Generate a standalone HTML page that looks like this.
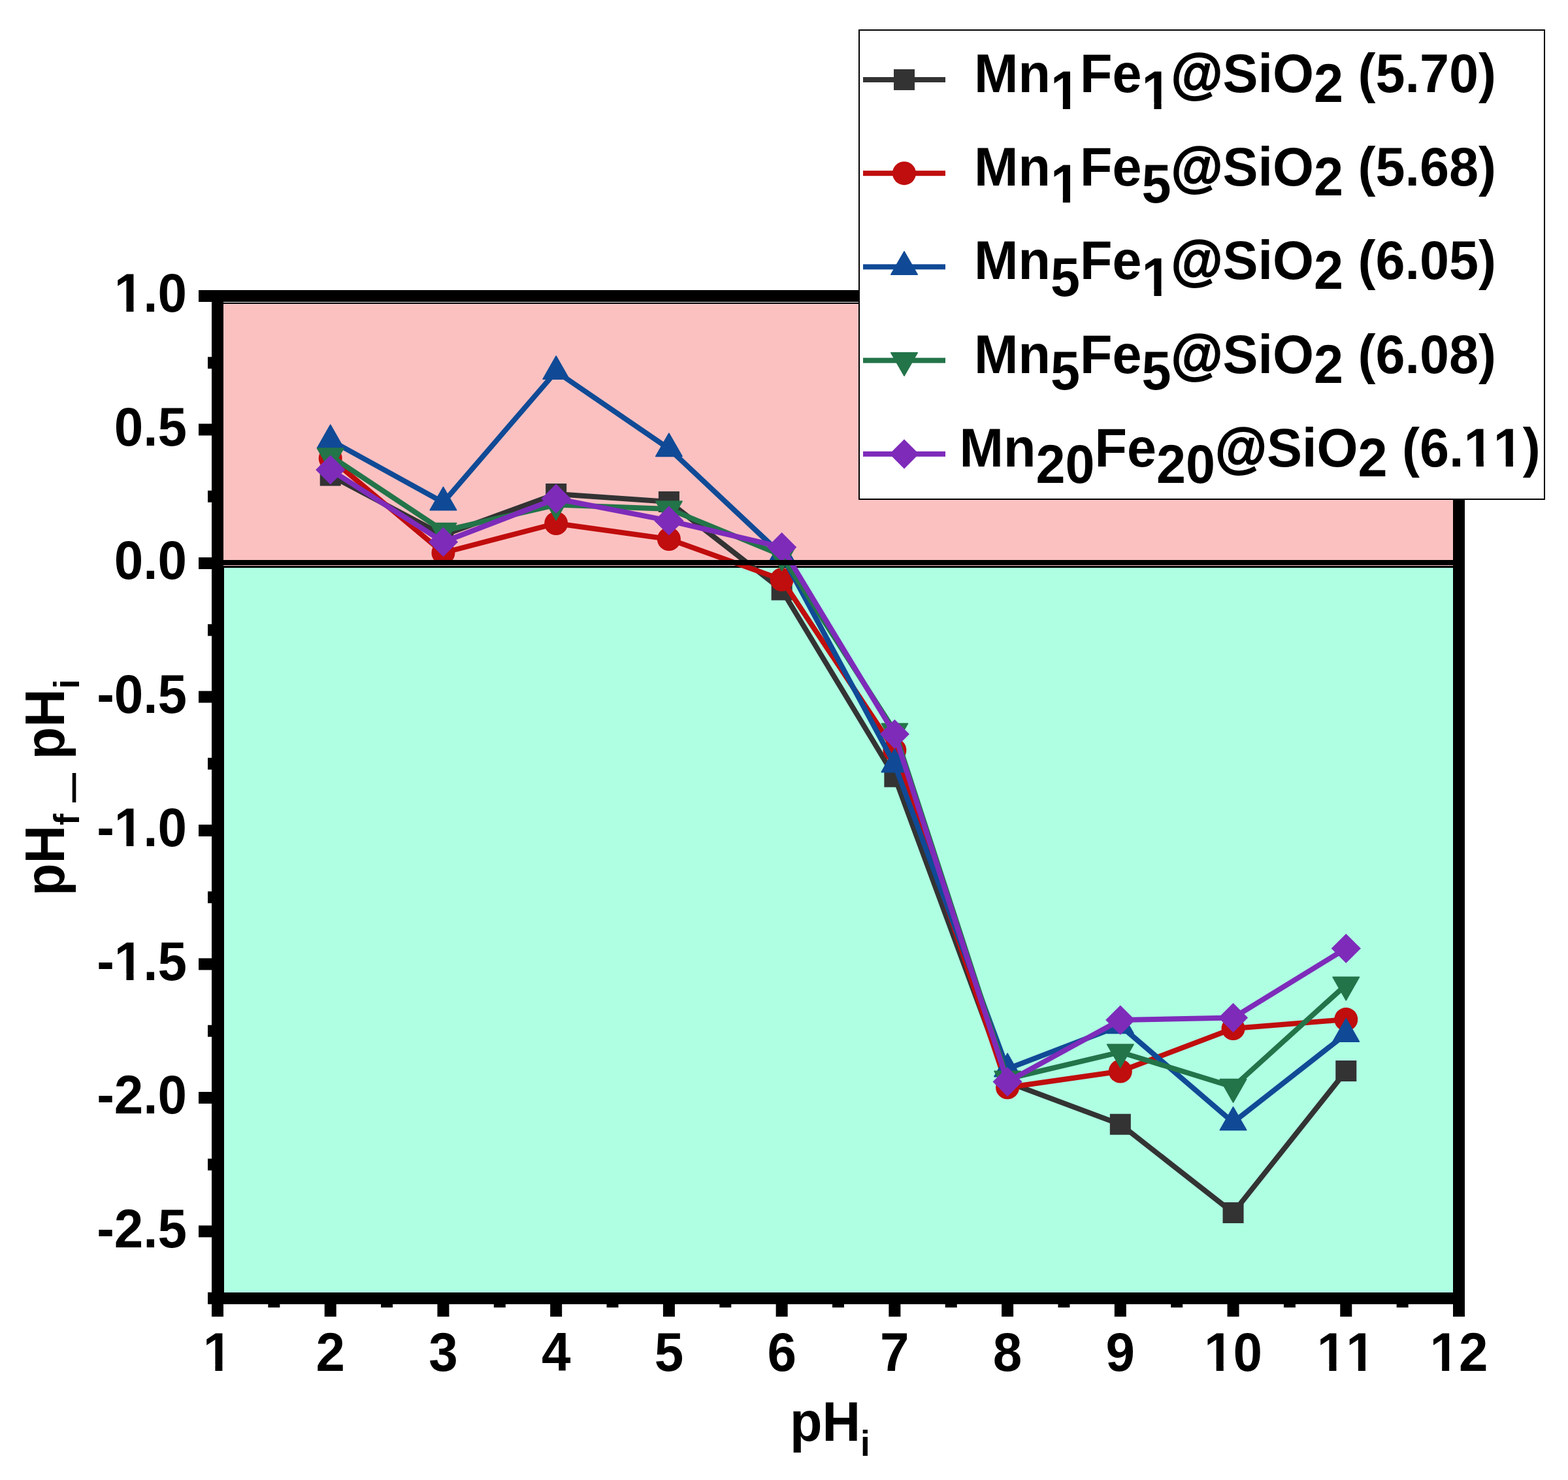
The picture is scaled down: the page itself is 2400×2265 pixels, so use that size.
<!DOCTYPE html>
<html><head><meta charset="utf-8"><title>pH drift plot</title>
<style>html,body{margin:0;padding:0;background:#fff;}body{width:2400px;height:2265px;overflow:hidden;}svg{display:block;}text{font-family:"Liberation Sans",Arial,sans-serif;font-weight:bold;fill:#000;font-kerning:none;}</style>
</head><body>
<svg width="2400" height="2265" viewBox="0 0 2400 2265">
<rect width="2400" height="2265" fill="#fff"/>
<rect x="342" y="463" width="1882" height="403" fill="#FBC1C1"/>
<rect x="342" y="463" width="1882" height="2" fill="#000"/>
<rect x="342" y="866" width="1882" height="1112" fill="#AFFFE3"/>
<rect x="342" y="866" width="1882" height="3" fill="#000"/>
<rect x="342" y="866" width="1" height="1112" fill="#000"/>
<polyline points="505.73,727.6 678.45,819 851.18,756 1023.91,768 1196.63,902.7 1369.36,1188.7 1542.09,1656.3 1714.82,1720.7 1887.54,1856 2060.27,1639" fill="none" stroke="#333333" stroke-width="8" stroke-linejoin="round"/>
<rect x="489.73" y="711.6" width="32" height="32" fill="#333333"/>
<rect x="662.45" y="803" width="32" height="32" fill="#333333"/>
<rect x="835.18" y="740" width="32" height="32" fill="#333333"/>
<rect x="1007.91" y="752" width="32" height="32" fill="#333333"/>
<rect x="1180.63" y="886.7" width="32" height="32" fill="#333333"/>
<rect x="1353.36" y="1172.7" width="32" height="32" fill="#333333"/>
<rect x="1526.09" y="1640.3" width="32" height="32" fill="#333333"/>
<rect x="1698.82" y="1704.7" width="32" height="32" fill="#333333"/>
<rect x="1871.54" y="1840" width="32" height="32" fill="#333333"/>
<rect x="2044.27" y="1623" width="32" height="32" fill="#333333"/>
<polyline points="505.73,701.5 678.45,846 851.18,801 1023.91,825 1196.63,887 1369.36,1148 1542.09,1664.3 1714.82,1639.5 1887.54,1574.1 2060.27,1560.1" fill="none" stroke="#C00D0D" stroke-width="8" stroke-linejoin="round"/>
<circle cx="505.73" cy="701.5" r="18" fill="#C00D0D"/>
<circle cx="678.45" cy="846" r="18" fill="#C00D0D"/>
<circle cx="851.18" cy="801" r="18" fill="#C00D0D"/>
<circle cx="1023.91" cy="825" r="18" fill="#C00D0D"/>
<circle cx="1196.63" cy="887" r="18" fill="#C00D0D"/>
<circle cx="1369.36" cy="1148" r="18" fill="#C00D0D"/>
<circle cx="1542.09" cy="1664.3" r="18" fill="#C00D0D"/>
<circle cx="1714.82" cy="1639.5" r="18" fill="#C00D0D"/>
<circle cx="1887.54" cy="1574.1" r="18" fill="#C00D0D"/>
<circle cx="2060.27" cy="1560.1" r="18" fill="#C00D0D"/>
<polyline points="505.73,673.8 678.45,768.9 851.18,568.5 1023.91,686.7 1196.63,849 1369.36,1169.8 1542.09,1635.8 1714.82,1569.6 1887.54,1717.7 2060.27,1582.3" fill="none" stroke="#104A96" stroke-width="8" stroke-linejoin="round"/>
<polygon points="505.73,650.2 525.93,685.6 485.53,685.6" fill="#104A96" stroke="#104A96" stroke-width="1.6" stroke-linejoin="round"/>
<polygon points="678.45,745.3 698.65,780.7 658.25,780.7" fill="#104A96" stroke="#104A96" stroke-width="1.6" stroke-linejoin="round"/>
<polygon points="851.18,544.9 871.38,580.3 830.98,580.3" fill="#104A96" stroke="#104A96" stroke-width="1.6" stroke-linejoin="round"/>
<polygon points="1023.91,663.1 1044.11,698.5 1003.71,698.5" fill="#104A96" stroke="#104A96" stroke-width="1.6" stroke-linejoin="round"/>
<polygon points="1196.63,825.4 1216.84,860.8 1176.43,860.8" fill="#104A96" stroke="#104A96" stroke-width="1.6" stroke-linejoin="round"/>
<polygon points="1369.36,1146.2 1389.56,1181.6 1349.16,1181.6" fill="#104A96" stroke="#104A96" stroke-width="1.6" stroke-linejoin="round"/>
<polygon points="1542.09,1612.2 1562.29,1647.6 1521.89,1647.6" fill="#104A96" stroke="#104A96" stroke-width="1.6" stroke-linejoin="round"/>
<polygon points="1714.82,1546 1735.02,1581.4 1694.62,1581.4" fill="#104A96" stroke="#104A96" stroke-width="1.6" stroke-linejoin="round"/>
<polygon points="1887.54,1694.1 1907.74,1729.5 1867.34,1729.5" fill="#104A96" stroke="#104A96" stroke-width="1.6" stroke-linejoin="round"/>
<polygon points="2060.27,1558.7 2080.47,1594.1 2040.07,1594.1" fill="#104A96" stroke="#104A96" stroke-width="1.6" stroke-linejoin="round"/>
<polyline points="505.73,697.8 678.45,812.3 851.18,772.5 1023.91,778.9 1196.63,849.9 1369.36,1119 1542.09,1651 1714.82,1610.2 1887.54,1663.4 2060.27,1507.2" fill="none" stroke="#237449" stroke-width="8" stroke-linejoin="round"/>
<polygon points="505.73,721.4 525.93,686 485.53,686" fill="#237449" stroke="#237449" stroke-width="1.6" stroke-linejoin="round"/>
<polygon points="678.45,835.9 698.65,800.5 658.25,800.5" fill="#237449" stroke="#237449" stroke-width="1.6" stroke-linejoin="round"/>
<polygon points="851.18,796.1 871.38,760.7 830.98,760.7" fill="#237449" stroke="#237449" stroke-width="1.6" stroke-linejoin="round"/>
<polygon points="1023.91,802.5 1044.11,767.1 1003.71,767.1" fill="#237449" stroke="#237449" stroke-width="1.6" stroke-linejoin="round"/>
<polygon points="1196.63,873.5 1216.84,838.1 1176.43,838.1" fill="#237449" stroke="#237449" stroke-width="1.6" stroke-linejoin="round"/>
<polygon points="1369.36,1142.6 1389.56,1107.2 1349.16,1107.2" fill="#237449" stroke="#237449" stroke-width="1.6" stroke-linejoin="round"/>
<polygon points="1542.09,1674.6 1562.29,1639.2 1521.89,1639.2" fill="#237449" stroke="#237449" stroke-width="1.6" stroke-linejoin="round"/>
<polygon points="1714.82,1633.8 1735.02,1598.4 1694.62,1598.4" fill="#237449" stroke="#237449" stroke-width="1.6" stroke-linejoin="round"/>
<polygon points="1887.54,1687 1907.74,1651.6 1867.34,1651.6" fill="#237449" stroke="#237449" stroke-width="1.6" stroke-linejoin="round"/>
<polygon points="2060.27,1530.8 2080.47,1495.4 2040.07,1495.4" fill="#237449" stroke="#237449" stroke-width="1.6" stroke-linejoin="round"/>
<polyline points="505.73,719 678.45,829.4 851.18,763.2 1023.91,796.9 1196.63,837.4 1369.36,1123.5 1542.09,1655.6 1714.82,1561.1 1887.54,1557.6 2060.27,1451.5" fill="none" stroke="#7E2BBA" stroke-width="8" stroke-linejoin="round"/>
<polygon points="505.73,696.4 528.33,719 505.73,741.6 483.13,719" fill="#7E2BBA"/>
<polygon points="678.45,806.8 701.05,829.4 678.45,852 655.85,829.4" fill="#7E2BBA"/>
<polygon points="851.18,740.6 873.78,763.2 851.18,785.8 828.58,763.2" fill="#7E2BBA"/>
<polygon points="1023.91,774.3 1046.51,796.9 1023.91,819.5 1001.31,796.9" fill="#7E2BBA"/>
<polygon points="1196.63,814.8 1219.23,837.4 1196.63,860 1174.04,837.4" fill="#7E2BBA"/>
<polygon points="1369.36,1100.9 1391.96,1123.5 1369.36,1146.1 1346.76,1123.5" fill="#7E2BBA"/>
<polygon points="1542.09,1633 1564.69,1655.6 1542.09,1678.2 1519.49,1655.6" fill="#7E2BBA"/>
<polygon points="1714.82,1538.5 1737.42,1561.1 1714.82,1583.7 1692.22,1561.1" fill="#7E2BBA"/>
<polygon points="1887.54,1535 1910.14,1557.6 1887.54,1580.2 1864.94,1557.6" fill="#7E2BBA"/>
<polygon points="2060.27,1428.9 2082.87,1451.5 2060.27,1474.1 2037.67,1451.5" fill="#7E2BBA"/>
<rect x="342" y="857" width="1882" height="8" fill="#000"/>
<rect x="324" y="444" width="18" height="1552" fill="#000"/>
<rect x="324" y="444" width="1918" height="18" fill="#000"/>
<rect x="2224" y="444" width="18" height="1552" fill="#000"/>
<rect x="318" y="1978" width="1924" height="18" fill="#000"/>
<rect x="304" y="444" width="20" height="18" fill="#000"/>
<rect x="318" y="546.25" width="6" height="18" fill="#000"/>
<rect x="304" y="648.5" width="20" height="18" fill="#000"/>
<rect x="318" y="750.75" width="6" height="18" fill="#000"/>
<rect x="304" y="853" width="20" height="18" fill="#000"/>
<rect x="318" y="955.25" width="6" height="18" fill="#000"/>
<rect x="304" y="1057.5" width="20" height="18" fill="#000"/>
<rect x="318" y="1159.75" width="6" height="18" fill="#000"/>
<rect x="304" y="1262" width="20" height="18" fill="#000"/>
<rect x="318" y="1364.25" width="6" height="18" fill="#000"/>
<rect x="304" y="1466.5" width="20" height="18" fill="#000"/>
<rect x="318" y="1568.75" width="6" height="18" fill="#000"/>
<rect x="304" y="1671" width="20" height="18" fill="#000"/>
<rect x="318" y="1773.25" width="6" height="18" fill="#000"/>
<rect x="304" y="1875.5" width="20" height="18" fill="#000"/>
<rect x="318" y="1977.75" width="6" height="18" fill="#000"/>
<rect x="324" y="1996" width="18" height="19" fill="#000"/>
<rect x="410.36" y="1996" width="18" height="5" fill="#000"/>
<rect x="496.73" y="1996" width="18" height="19" fill="#000"/>
<rect x="583.09" y="1996" width="18" height="5" fill="#000"/>
<rect x="669.45" y="1996" width="18" height="19" fill="#000"/>
<rect x="755.82" y="1996" width="18" height="5" fill="#000"/>
<rect x="842.18" y="1996" width="18" height="19" fill="#000"/>
<rect x="928.54" y="1996" width="18" height="5" fill="#000"/>
<rect x="1014.91" y="1996" width="18" height="19" fill="#000"/>
<rect x="1101.27" y="1996" width="18" height="5" fill="#000"/>
<rect x="1187.63" y="1996" width="18" height="19" fill="#000"/>
<rect x="1274" y="1996" width="18" height="5" fill="#000"/>
<rect x="1360.36" y="1996" width="18" height="19" fill="#000"/>
<rect x="1446.73" y="1996" width="18" height="5" fill="#000"/>
<rect x="1533.09" y="1996" width="18" height="19" fill="#000"/>
<rect x="1619.45" y="1996" width="18" height="5" fill="#000"/>
<rect x="1705.82" y="1996" width="18" height="19" fill="#000"/>
<rect x="1792.18" y="1996" width="18" height="5" fill="#000"/>
<rect x="1878.54" y="1996" width="18" height="19" fill="#000"/>
<rect x="1964.91" y="1996" width="18" height="5" fill="#000"/>
<rect x="2051.27" y="1996" width="18" height="19" fill="#000"/>
<rect x="2137.63" y="1996" width="18" height="5" fill="#000"/>
<rect x="2224" y="1996" width="18" height="19" fill="#000"/>
<g transform="translate(286,477.4) scale(1,1.05)"><text x="-111.21" y="0" font-size="80">1.0</text><rect x="-107.67" y="-9.36" width="15.13" height="10.76" fill="#fff"/><rect x="-81.56" y="-9.36" width="14.12" height="10.76" fill="#fff"/></g>
<g transform="translate(286,681.9) scale(1,1.05)"><text x="-111.21" y="0" font-size="80">0.5</text></g>
<g transform="translate(286,886.4) scale(1,1.05)"><text x="-111.21" y="0" font-size="80">0.0</text></g>
<g transform="translate(286,1090.9) scale(1,1.05)"><text x="-137.85" y="0" font-size="80">-0.5</text></g>
<g transform="translate(286,1295.4) scale(1,1.05)"><text x="-137.85" y="0" font-size="80">-1.0</text><rect x="-107.67" y="-9.36" width="15.13" height="10.76" fill="#fff"/><rect x="-81.56" y="-9.36" width="14.12" height="10.76" fill="#fff"/></g>
<g transform="translate(286,1499.9) scale(1,1.05)"><text x="-137.85" y="0" font-size="80">-1.5</text><rect x="-107.67" y="-9.36" width="15.13" height="10.76" fill="#fff"/><rect x="-81.56" y="-9.36" width="14.12" height="10.76" fill="#fff"/></g>
<g transform="translate(286,1704.4) scale(1,1.05)"><text x="-137.85" y="0" font-size="80">-2.0</text></g>
<g transform="translate(286,1908.9) scale(1,1.05)"><text x="-137.85" y="0" font-size="80">-2.5</text></g>
<g transform="translate(333,2098.3) scale(1,1.05)"><text x="-22.25" y="0" font-size="80">1</text><rect x="-18.71" y="-9.36" width="15.13" height="10.76" fill="#fff"/><rect x="7.4" y="-9.36" width="14.12" height="10.76" fill="#fff"/></g>
<g transform="translate(505.73,2098.3) scale(1,1.05)"><text x="-22.25" y="0" font-size="80">2</text></g>
<g transform="translate(678.45,2098.3) scale(1,1.05)"><text x="-22.25" y="0" font-size="80">3</text></g>
<g transform="translate(851.18,2098.3) scale(1,1.05)"><text x="-22.25" y="0" font-size="80">4</text></g>
<g transform="translate(1023.91,2098.3) scale(1,1.05)"><text x="-22.25" y="0" font-size="80">5</text></g>
<g transform="translate(1196.63,2098.3) scale(1,1.05)"><text x="-22.25" y="0" font-size="80">6</text></g>
<g transform="translate(1369.36,2098.3) scale(1,1.05)"><text x="-22.25" y="0" font-size="80">7</text></g>
<g transform="translate(1542.09,2098.3) scale(1,1.05)"><text x="-22.25" y="0" font-size="80">8</text></g>
<g transform="translate(1714.82,2098.3) scale(1,1.05)"><text x="-22.25" y="0" font-size="80">9</text></g>
<g transform="translate(1887.54,2098.3) scale(1,1.05)"><text x="-44.49" y="0" font-size="80">10</text><rect x="-40.95" y="-9.36" width="15.13" height="10.76" fill="#fff"/><rect x="-14.84" y="-9.36" width="14.12" height="10.76" fill="#fff"/></g>
<g transform="translate(2060.27,2098.3) scale(1,1.05)"><text x="-44.49" y="0" font-size="80">11</text><rect x="-40.95" y="-9.36" width="15.13" height="10.76" fill="#fff"/><rect x="-14.84" y="-9.36" width="14.12" height="10.76" fill="#fff"/><rect x="3.54" y="-9.36" width="15.13" height="10.76" fill="#fff"/><rect x="29.65" y="-9.36" width="14.12" height="10.76" fill="#fff"/></g>
<g transform="translate(2233,2098.3) scale(1,1.05)"><text x="-44.49" y="0" font-size="80">12</text><rect x="-40.95" y="-9.36" width="15.13" height="10.76" fill="#fff"/><rect x="-14.84" y="-9.36" width="14.12" height="10.76" fill="#fff"/></g>
<text transform="translate(1209,2204.8) scale(1,1.05)" font-size="81">pH<tspan font-size="53" dy="22">i</tspan></text>
<text transform="translate(97.8,1371) rotate(-90) scale(1,1.05)" font-size="81">pH<tspan font-size="53" dy="22">f</tspan><tspan dy="-22" font-size="70">&#160;</tspan><tspan dy="7" font-size="74" stroke="#000" stroke-width="2.5">_</tspan><tspan dy="-7">&#160;pH</tspan><tspan font-size="53" dy="22">i</tspan></text>
<rect x="1315" y="46" width="1049" height="718" fill="#fff" stroke="#000" stroke-width="2"/>
<rect x="1321" y="118" width="126" height="8" fill="#333333"/>
<rect x="1368" y="106" width="32" height="32" fill="#333333"/>
<g transform="translate(1491,141) scale(1,1.035)"><text x="0" y="0" font-size="81"><tspan>Mn</tspan><tspan dy="24.7">1</tspan><tspan dy="-24.7">Fe</tspan><tspan dy="24.7">1</tspan><tspan dy="-24.7" stroke="#000" stroke-width="1.8">@</tspan><tspan>SiO</tspan><tspan dy="14.5">2</tspan><tspan dy="-14.5">&#160;(5.70)</tspan></text><rect x="120.55" y="15.23" width="15.3" height="10.87" fill="#fff"/><rect x="146.97" y="15.23" width="14.27" height="10.87" fill="#fff"/><rect x="260.13" y="15.23" width="15.3" height="10.87" fill="#fff"/><rect x="286.55" y="15.23" width="14.27" height="10.87" fill="#fff"/></g>
<rect x="1321" y="261.2" width="126" height="8" fill="#C00D0D"/>
<circle cx="1384" cy="265.2" r="18" fill="#C00D0D"/>
<g transform="translate(1491,284.2) scale(1,1.035)"><text x="0" y="0" font-size="81"><tspan>Mn</tspan><tspan dy="24.7">1</tspan><tspan dy="-24.7">Fe</tspan><tspan dy="24.7">5</tspan><tspan dy="-24.7" stroke="#000" stroke-width="1.8">@</tspan><tspan>SiO</tspan><tspan dy="14.5">2</tspan><tspan dy="-14.5">&#160;(5.68)</tspan></text><rect x="120.55" y="15.23" width="15.3" height="10.87" fill="#fff"/><rect x="146.97" y="15.23" width="14.27" height="10.87" fill="#fff"/></g>
<rect x="1321" y="404.4" width="126" height="8" fill="#104A96"/>
<polygon points="1384,384.8 1404.2,420.2 1363.8,420.2" fill="#104A96" stroke="#104A96" stroke-width="1.6" stroke-linejoin="round"/>
<g transform="translate(1491,427.4) scale(1,1.035)"><text x="0" y="0" font-size="81"><tspan>Mn</tspan><tspan dy="24.7">5</tspan><tspan dy="-24.7">Fe</tspan><tspan dy="24.7">1</tspan><tspan dy="-24.7" stroke="#000" stroke-width="1.8">@</tspan><tspan>SiO</tspan><tspan dy="14.5">2</tspan><tspan dy="-14.5">&#160;(6.05)</tspan></text><rect x="260.13" y="15.23" width="15.3" height="10.87" fill="#fff"/><rect x="286.55" y="15.23" width="14.27" height="10.87" fill="#fff"/></g>
<rect x="1321" y="547.6" width="126" height="8" fill="#237449"/>
<polygon points="1384,575.2 1404.2,539.8 1363.8,539.8" fill="#237449" stroke="#237449" stroke-width="1.6" stroke-linejoin="round"/>
<g transform="translate(1491,570.6) scale(1,1.035)"><text x="0" y="0" font-size="81"><tspan>Mn</tspan><tspan dy="24.7">5</tspan><tspan dy="-24.7">Fe</tspan><tspan dy="24.7">5</tspan><tspan dy="-24.7" stroke="#000" stroke-width="1.8">@</tspan><tspan>SiO</tspan><tspan dy="14.5">2</tspan><tspan dy="-14.5">&#160;(6.08)</tspan></text></g>
<rect x="1321" y="690.8" width="126" height="8" fill="#7E2BBA"/>
<polygon points="1384,672.2 1406.6,694.8 1384,717.4 1361.4,694.8" fill="#7E2BBA"/>
<g transform="translate(1468.5,713.8) scale(1,1.035)"><text x="0" y="0" font-size="81"><tspan>Mn</tspan><tspan dy="24.7">20</tspan><tspan dy="-24.7">Fe</tspan><tspan dy="24.7">20</tspan><tspan dy="-24.7" stroke="#000" stroke-width="1.8">@</tspan><tspan>SiO</tspan><tspan dy="14.5">2</tspan><tspan dy="-14.5">&#160;(6.11)</tspan></text><rect x="775.87" y="-9.47" width="15.3" height="10.87" fill="#fff"/><rect x="802.29" y="-9.47" width="14.27" height="10.87" fill="#fff"/><rect x="820.92" y="-9.47" width="15.3" height="10.87" fill="#fff"/><rect x="847.34" y="-9.47" width="14.27" height="10.87" fill="#fff"/></g>
</svg>
</body></html>
